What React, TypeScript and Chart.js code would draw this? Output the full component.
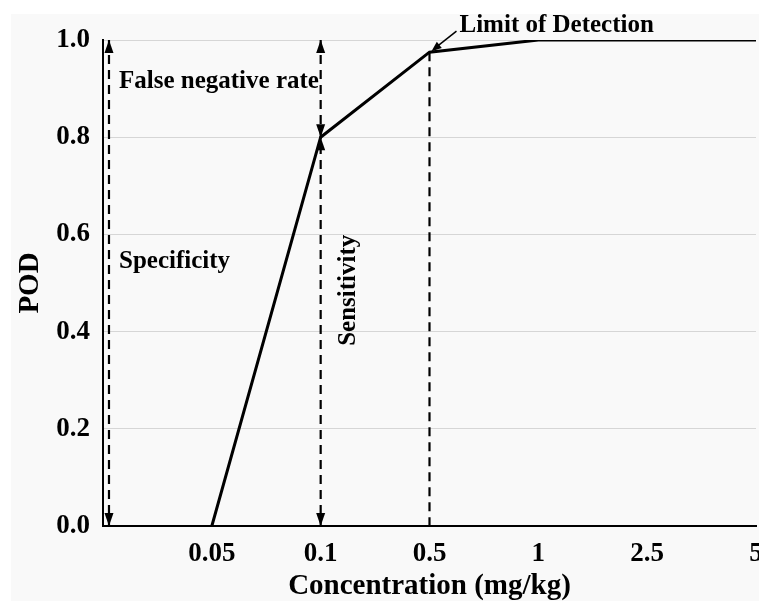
import React, { useEffect, useRef } from 'react';
import { Chart, registerables } from 'chart.js';

Chart.register(...registerables);

// ---- data ----
const xCategories = ['0.05', '0.1', '0.5', '1', '2.5', '5'];
const podValues = [0, 0.8, 0.975, 1.0, 1.0, 1.0];
const yTickLabels = ['0.0', '0.2', '0.4', '0.6', '0.8', '1.0'];
const sensitivityCategory = '0.1';
const lodCategory = '0.5';

const FONT = "'Liberation Serif', 'Times New Roman', serif";

const catIndex = (c: string) => xCategories.indexOf(c) + 1;
const points = xCategories.map((_, i) => ({ x: i + 1, y: podValues[i] }));

const annotationPlugin = {
  id: 'podAnnotations',
  afterDatasetsDraw(chart: any) {
    const { ctx, scales } = chart;
    const xs = scales.x;
    const ys = scales.y;
    const X = (v: number) => xs.getPixelForValue(v);
    const Y = (v: number) => ys.getPixelForValue(v);

    const sensIdx = catIndex(sensitivityCategory);
    const sensVal = podValues[sensIdx - 1];
    const lodIdx = catIndex(lodCategory);
    const lodVal = podValues[lodIdx - 1];

    ctx.save();
    ctx.strokeStyle = '#000';
    ctx.fillStyle = '#000';

    const dashed = (px: number, y1: number, y2: number) => {
      ctx.save();
      ctx.lineWidth = 2.2;
      ctx.setLineDash([9, 6]);
      ctx.beginPath();
      ctx.moveTo(px, y1);
      ctx.lineTo(px, y2);
      ctx.stroke();
      ctx.restore();
    };
    const head = (tx: number, ty: number, dx: number, dy: number, len = 13, half = 4.5) => {
      const l = Math.hypot(dx, dy);
      const ux = dx / l, uy = dy / l;
      const bx = tx - ux * len, by = ty - uy * len;
      ctx.beginPath();
      ctx.moveTo(tx, ty);
      ctx.lineTo(bx - uy * half, by + ux * half);
      ctx.lineTo(bx + uy * half, by - ux * half);
      ctx.closePath();
      ctx.fill();
    };

    // Specificity arrow (just right of the axis)
    const sx = X(0.055);
    dashed(sx, Y(1), Y(0));
    head(sx, Y(1), 0, -1);
    head(sx, Y(0), 0, 1);

    // Sensitivity / false negative arrows
    const tx = X(sensIdx);
    dashed(tx, Y(1), Y(0));
    head(tx, Y(1), 0, -1);
    head(tx, Y(sensVal), 0, 1);
    head(tx, Y(sensVal), 0, -1);
    head(tx, Y(0), 0, 1);

    // LOD dashed drop line
    const lx = X(lodIdx);
    dashed(lx, Y(lodVal), Y(0));

    // LOD pointer
    const px = lx + 2, py = Y(lodVal) - 1;
    const qx = lx + 27, qy = Y(lodVal) - 21;
    ctx.lineWidth = 1.5;
    ctx.setLineDash([]);
    ctx.beginPath();
    ctx.moveTo(qx, qy);
    ctx.lineTo(px + 6, py - 5);
    ctx.stroke();
    head(px, py, px - qx, py - qy, 10, 4);

    // Texts
    ctx.font = `bold 25px ${FONT}`;
    ctx.textBaseline = 'middle';
    ctx.textAlign = 'left';
    ctx.fillText('False negative rate', X(0.055) + 10, Y(0.915));
    ctx.fillText('Specificity', X(0.055) + 10, Y(0.545));
    ctx.fillText('Limit of Detection', lx + 30, Y(lodVal) - 27);

    ctx.save();
    ctx.translate(tx + 28, Y(0.485));
    ctx.rotate(-Math.PI / 2);
    ctx.textAlign = 'center';
    ctx.fillText('Sensitivity', 0, 0);
    ctx.restore();

    ctx.restore();
  },
};

export default function App() {
  const ref = useRef<HTMLCanvasElement>(null);

  useEffect(() => {
    if (!ref.current) return;
    const chart = new Chart(ref.current, {
      type: 'line',
      data: {
        datasets: [
          {
            data: points,
            borderColor: '#000',
            borderWidth: 3,
            pointRadius: 0,
            fill: false,
            tension: 0,
          },
        ],
      },
      options: {
        animation: false,
        responsive: false,
        maintainAspectRatio: false,
        devicePixelRatio: 1,
        layout: { padding: { top: 26, right: 3, left: 0, bottom: 0 } },
        plugins: { legend: { display: false }, tooltip: { enabled: false } },
        scales: {
          x: {
            type: 'linear',
            min: 0,
            max: xCategories.length,
            grid: { display: false, drawTicks: false },
            border: { color: '#000', width: 2 },
            ticks: {
              stepSize: 1,
              autoSkip: false,
              maxRotation: 0,
              padding: 12,
              color: '#000',
              font: { family: FONT, size: 27, weight: 'bold' },
              callback: (v: any) => (v >= 1 ? xCategories[v - 1] : ''),
            },
            title: {
              display: true,
              text: 'Concentration (mg/kg)',
              color: '#000',
              font: { family: FONT, size: 29, weight: 'bold' },
              padding: { top: 0, bottom: -3 },
            },
            afterFit: (s: any) => {
              s.height = 75;
              s.paddingLeft = 0;
              s.paddingRight = 0;
            },
          } as any,
          y: {
            min: 0,
            max: 1,
            grid: { color: '#d6d6d6', lineWidth: 1, drawTicks: false },
            border: { color: '#000', width: 2 },
            ticks: {
              stepSize: 0.2,
              padding: 13,
              color: '#000',
              font: { family: FONT, size: 27, weight: 'bold' },
              callback: (_v: any, i: number) => yTickLabels[i],
            },
            title: {
              display: true,
              text: 'POD',
              color: '#000',
              font: { family: FONT, size: 29, weight: 'bold' },
              padding: { top: 2, bottom: 0 },
            },
            afterFit: (s: any) => {
              s.width = 92;
              s.paddingTop = 0;
              s.paddingBottom = 0;
            },
          } as any,
        },
      },
      plugins: [annotationPlugin],
    });
    return () => chart.destroy();
  }, []);

  return (
    <div style={{ position: 'fixed', left: 0, top: 0, width: 759, height: 601, background: '#fff', overflow: 'hidden' }}>
      <canvas
        ref={ref}
        width={748}
        height={587}
        style={{ position: 'absolute', left: 11, top: 14, width: 748, height: 587, background: '#f9f9f9' }}
      />
    </div>
  );
}
